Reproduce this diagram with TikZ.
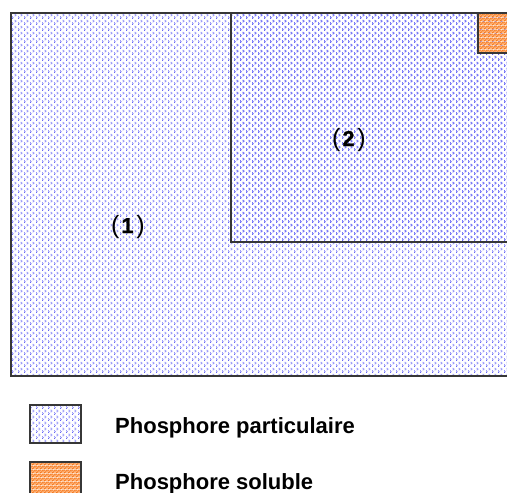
\documentclass[tikz,border=0pt]{standalone}
\usepackage{fontspec}
\setmainfont{Liberation Sans}
\newfontfamily\digitfont{Liberation Sans Bold}[FakeBold=1.5]
\usetikzlibrary{patterns}

\definecolor{dotblue}{RGB}{100,100,245}
\definecolor{dotorange}{RGB}{245,120,30}
\definecolor{paleorange}{RGB}{255,185,130}
\definecolor{edgegray}{RGB}{55,55,55}

% fine blue stipple: staggered three-dot clusters
\pgfdeclarepatterninherentlycolored{bluestipple}
  {\pgfpointorigin}{\pgfqpoint{6pt}{6pt}}{\pgfqpoint{6pt}{6pt}}
{
  \pgfsetfillcolor{dotblue}
  \pgfpathrectangle{\pgfqpoint{0pt}{0pt}}{\pgfqpoint{1pt}{1pt}}
  \pgfpathrectangle{\pgfqpoint{1pt}{1pt}}{\pgfqpoint{1pt}{1pt}}
  \pgfpathrectangle{\pgfqpoint{0pt}{2pt}}{\pgfqpoint{1pt}{1pt}}
  \pgfpathrectangle{\pgfqpoint{3pt}{3pt}}{\pgfqpoint{1pt}{1pt}}
  \pgfpathrectangle{\pgfqpoint{4pt}{4pt}}{\pgfqpoint{1pt}{1pt}}
  \pgfpathrectangle{\pgfqpoint{3pt}{5pt}}{\pgfqpoint{1pt}{1pt}}
  \pgfusepath{fill}
}

% dense orange stipple
\pgfdeclarepatterninherentlycolored{orangestipple}
  {\pgfpointorigin}{\pgfqpoint{4pt}{4pt}}{\pgfqpoint{4pt}{4pt}}
{
  \pgfsetfillcolor{paleorange}
  \pgfpathrectangle{\pgfqpoint{0pt}{0pt}}{\pgfqpoint{4pt}{4pt}}
  \pgfusepath{fill}
  \pgfsetfillcolor{dotorange}
  \pgfpathrectangle{\pgfqpoint{0pt}{0pt}}{\pgfqpoint{2pt}{1pt}}
  \pgfpathrectangle{\pgfqpoint{1pt}{1pt}}{\pgfqpoint{1pt}{1pt}}
  \pgfpathrectangle{\pgfqpoint{2pt}{2pt}}{\pgfqpoint{2pt}{1pt}}
  \pgfpathrectangle{\pgfqpoint{3pt}{3pt}}{\pgfqpoint{1pt}{1pt}}
  \pgfpathrectangle{\pgfqpoint{0pt}{3pt}}{\pgfqpoint{1pt}{1pt}}
  \pgfusepath{fill}
}

\tikzset{
  particulate/.style={pattern=bluestipple, draw=edgegray, line width=1.4pt},
  soluble/.style={pattern=orangestipple, draw=edgegray, line width=1.4pt},
  zonelabel/.style={inner sep=0pt, anchor=base},
  legendtext/.style={anchor=base west, inner sep=0pt,
    font=\bfseries\fontsize{22}{24}\selectfont},
}

% "( n )" tag: light parentheses round a heavy numeral
\newcommand{\zonetag}[1]{%
  {\fontsize{25}{27}\selectfont(}\hspace{2pt}%
  {\digitfont\fontsize{21.5}{23}\selectfont #1}\hspace{3pt}%
  {\fontsize{25}{27}\selectfont)}}

\begin{document}
\begin{tikzpicture}[x=1pt,y=-1pt]
  \useasboundingbox (0,0) rectangle (507,493);
  \clip (0,0) rectangle (507,493);

  % nested areas
  \draw[particulate] (11,13) rectangle (520,376);
  \draw[particulate] (231,13) rectangle (520,242);
  \draw[soluble] (478,13) rectangle (520,53);

  \node[zonelabel] (zone1) at (128,233) {\zonetag{1}};
  \node[zonelabel] (zone2) at (349,146) {\zonetag{2}};

  % legend
  \draw[particulate] (30,405) rectangle (81,443);
  \draw[soluble] (30,462) rectangle (81,505);
  \node[legendtext] (legP) at (115,433.5) {Phosphore particulaire};
  \node[legendtext] (legS) at (115,489.5) {Phosphore soluble};
\end{tikzpicture}
\end{document}
